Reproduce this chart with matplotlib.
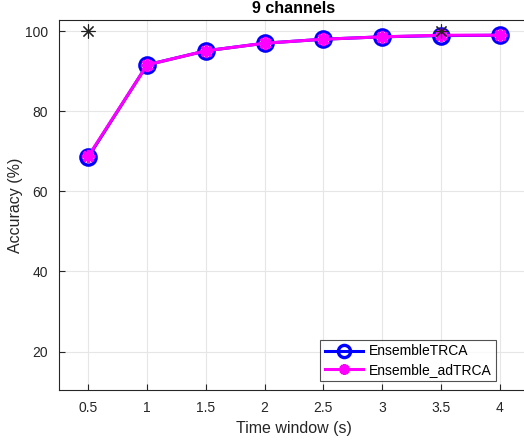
import matplotlib
matplotlib.use("Agg")
import matplotlib.pyplot as plt
import numpy as np

plt.rcParams['font.family'] = ['Liberation Sans', 'DejaVu Sans']

# time windows (s)
time_win = [0.5, 1, 1.5, 2, 2.5, 3, 3.5, 4]
# accuracy (%) per method
acc_ensemble_trca = [68.6, 91.6, 95.1, 97.0, 98.0, 98.6, 98.9, 99.0]
acc_ensemble_adtrca = [68.8, 91.6, 95.1, 97.0, 98.0, 98.6, 99.0, 99.0]
# significance markers
sig_x = [0.5, 3.5]
sig_y = [100, 100]

fig = plt.figure(figsize=(5.24, 4.43), dpi=100)
# axes runs a little past the right border, like the cropped original
ax = fig.add_axes([59/524, 1 - 390/443, 470/524, 370/443])

ax.plot(time_win, acc_ensemble_trca, color='#0000ff', lw=2.2, marker='o',
        ms=11, mfc='none', mec='#0000ff', mew=2.4, label='EnsembleTRCA', zorder=3)
ax.plot(time_win, acc_ensemble_adtrca, color='#ff00ff', lw=2.2, marker=(8, 2, 0),
        ms=9.5, mec='#ff00ff', mew=2.4, label='Ensemble_adTRCA', zorder=4)
ax.plot(sig_x, sig_y, ls='none', marker=(8, 2, 0), ms=10, mec='#222222',
        mew=0.8, zorder=5)

ax.set_xlim(0.25, 4.25)
ax.set_ylim(10.4, 102.8)
ax.set_xticks(time_win)
ax.set_xticklabels(['0.5', '1', '1.5', '2', '2.5', '3', '3.5', '4'])
ax.set_yticks([20, 40, 60, 80, 100])

ax.grid(True, color='#e6e6e6', lw=0.8)
ax.set_axisbelow(True)
for s in ['top', 'bottom', 'left']:
    ax.spines[s].set_color('#262626')
    ax.spines[s].set_linewidth(0.8)
ax.spines['right'].set_visible(False)
ax.tick_params(direction='in', length=4, width=0.8, colors='#262626',
               labelsize=10, pad=8)

ax.set_xlabel('Time window (s)', fontsize=11.5, color='#262626', labelpad=4)
ax.set_ylabel('Accuracy (%)', fontsize=11.5, color='#262626', labelpad=1)
ax.set_title('9 channels', fontsize=11.5, fontweight='bold', pad=5)

leg = ax.legend(loc='lower right', bbox_to_anchor=(498/529, 0.01),
                bbox_transform=ax.transAxes, fontsize=10, frameon=True,
                fancybox=False, edgecolor='#262626', borderpad=0.3,
                handlelength=2.8, labelspacing=0.3, borderaxespad=0.4,
                handletextpad=0.4, markerscale=0.8)
leg.get_frame().set_linewidth(0.8)

fig.savefig('out.png', dpi=100)
